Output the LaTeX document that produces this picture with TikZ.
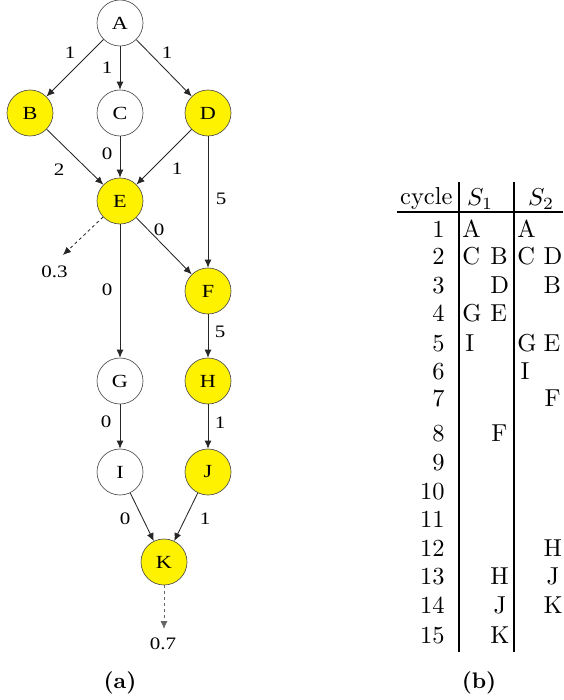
\documentclass[tikz,border=0pt]{standalone}
\usepackage{fontspec}
\usepackage{graphicx}
\newfontfamily\graphfont{Liberation Serif}
\usetikzlibrary{arrows.meta}
% graph labels are set in a slightly widened serif
\newcommand{\gtext}[1]{\scalebox{1.2}[1]{#1}}
\begin{document}
\begin{tikzpicture}[x=1pt,y=-1pt,
  task/.style={circle, draw=black!70, line width=0.65pt, minimum size=46pt,
    inner sep=0pt, font=\graphfont\fontsize{18.5}{20}\selectfont},
  crit/.style={task, fill=yellow},
  dep/.style={draw=black!85, line width=0.85pt, -{Latex[length=8pt,width=7pt]}},
  leak/.style={dep, dashed},
  wt/.style={font=\graphfont\fontsize{17.5}{19}\selectfont, inner sep=0pt},
  tab/.style={font=\fontsize{10}{12}\selectfont, inner sep=0pt, scale=2.45},
  tabrule/.style={line width=1.6pt},
  subcap/.style={font=\bfseries\fontsize{10}{12}\selectfont, inner sep=0pt, scale=2.25}
]
\useasboundingbox (0,0) rectangle (563,700);

% ---- task graph ----
\node[task] (A) at (120,23) {\gtext{A}};
\node[crit] (B) at (30,113) {\gtext{B}};
\node[task] (C) at (120,113) {\gtext{C}};
\node[crit] (D) at (208,113) {\gtext{D}};
\node[crit] (E) at (120,201) {\gtext{E}};
\node[crit] (F) at (208,291) {\gtext{F}};
\node[task] (G) at (120,381) {\gtext{G}};
\node[crit] (H) at (208,381) {\gtext{H}};
\node[task] (I) at (120,472) {\gtext{I}};
\node[crit] (J) at (208,472) {\gtext{J}};
\node[crit] (K) at (164,562) {\gtext{K}};

\coordinate (outE) at (63,255);
\coordinate (outK) at (164,629);

\draw[dep] (A) -- (B);
\draw[dep] (A) -- (C);
\draw[dep] (A) -- (D);
\draw[dep] (B) -- (E);
\draw[dep] (C) -- (E);
\draw[dep] (D) -- (E);
\draw[dep] (D) -- (F);
\draw[dep] (E) -- (F);
\draw[dep] (E) -- (G);
\draw[dep] (F) -- (H);
\draw[dep] (G) -- (I);
\draw[dep] (H) -- (J);
\draw[dep] (I) -- (K);
\draw[dep] (J) -- (K);
\draw[leak] (E) -- (outE);
\draw[leak, draw=black!60] (K) -- (outK);

% edge weights
\node[wt] (wAB) at (70,53) {\gtext{1}};
\node[wt] (wAC) at (107,68) {\gtext{1}};
\node[wt] (wAD) at (167,53) {\gtext{1}};
\node[wt] (wBE) at (59,170) {\gtext{2}};
\node[wt] (wCE) at (107,154) {\gtext{0}};
\node[wt] (wDE) at (177,169) {\gtext{1}};
\node[wt] (wDF) at (221,199) {\gtext{5}};
\node[wt] (wEF) at (159,230) {\gtext{0}};
\node[wt] (wEG) at (107,290) {\gtext{0}};
\node[wt] (wFH) at (220,332) {\gtext{5}};
\node[wt] (wGI) at (106,422) {\gtext{0}};
\node[wt] (wHJ) at (220,423) {\gtext{1}};
\node[wt] (wIK) at (125,519) {\gtext{0}};
\node[wt] (wJK) at (205,519) {\gtext{1}};
\node[wt] (pE) at (54.5,272) {\gtext{0.3}};
\node[wt] (pK) at (163,644) {\gtext{0.7}};

\node[subcap] (capa) at (120,683) {(a)};

% ---- schedule table ----
\draw[tabrule] (459,182) -- (459,652);
\draw[tabrule] (514,182) -- (514,652);
\draw[tabrule] (397,212) -- (563,212);

\node[tab, anchor=base east] (hcyc) at (453,205) {cycle};
\node[tab, anchor=base] (hs1) at (480,206) {$S_1$};
\node[tab, anchor=base] (hs2) at (541,206) {$S_2$};

\foreach \n/\y in {1/229,2/256,3/285,4/313,5/343,6/371,7/398,8/433,
                   9/462,10/491,11/519,12/548,13/576,14/605,15/635}
  \node[tab, anchor=base east] (cyc\n) at (445,\y+8) {\n};

\foreach \x/\y/\t [count=\k] in {
    462/229/A, 517/229/A,
    462/256/C, 490/256/B, 517/256/C, 543/256/D,
    490/285/D, 543/285/B,
    462/313/G, 490/313/E,
    465/343/I, 517/343/G, 543/343/E,
    520/371/I,
    544/398/F,
    491/433/F,
    543/548/H,
    490/576/H, 546/576/J,
    493/605/J, 543/605/K,
    490/635/K}
  \node[tab, anchor=base west] (ent\k) at (\x,\y+8.3) {\t};

\node[subcap] (capb) at (479,683) {(b)};
\end{tikzpicture}
\end{document}
